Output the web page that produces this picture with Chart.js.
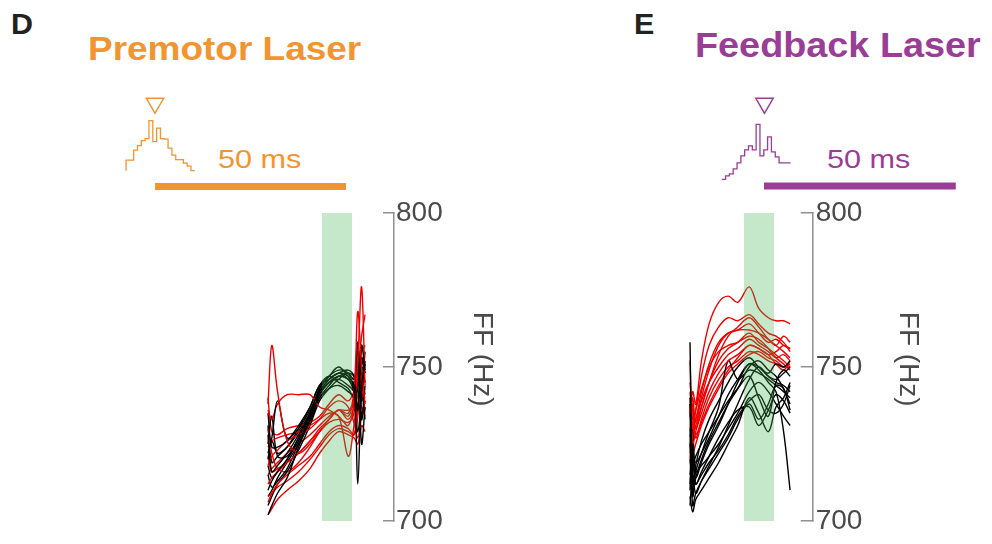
<!DOCTYPE html>
<html>
<head>
<meta charset="utf-8">
<script src="https://cdn.jsdelivr.net/npm/chart.js@4.4.1/dist/chart.umd.min.js"></script>
<style>
  body { margin: 0; width: 992px; height: 544px; background: #fff; position: relative; overflow: hidden; font-family: "Liberation Sans", Arial, sans-serif; }
  canvas { position: absolute; }
  .t { position: absolute; white-space: nowrap; line-height: 1; transform-origin: 0 0; }
</style>
</head>
<body>
<div class="t" style="left:11px;top:10px;font-size:29px;font-weight:bold;color:#222;transform:scaleX(1.05)">D</div>
<div class="t" style="left:88px;top:32px;font-size:33px;font-weight:bold;color:#F29530;transform:scaleX(1.12)">Premotor Laser</div>
<div class="t" style="left:634px;top:10px;font-size:29px;font-weight:bold;color:#222;transform:scaleX(1.05)">E</div>
<div class="t" style="left:695px;top:27px;font-size:35px;font-weight:bold;color:#9A3D96;transform:scaleX(1.08)">Feedback Laser</div>
<div class="t" style="left:218px;top:147px;font-size:25.5px;color:#F29530;transform:scaleX(1.2)">50 ms</div>
<div class="t" style="left:827px;top:147px;font-size:25.5px;color:#9A3D96;transform:scaleX(1.2)">50 ms</div>

<canvas id="histD" width="496" height="120" style="left:0;top:80px"></canvas>
<canvas id="histE" width="496" height="120" style="left:496px;top:80px"></canvas>
<canvas id="mainD" width="496" height="354" style="left:0;top:190px"></canvas>
<canvas id="mainE" width="426" height="354" style="left:496px;top:190px"></canvas>

<script>
// colours
const orange = '#F29530';
const purple = '#9A3D96';
const red = '#ee0000';

// song-timing histograms (1 ms bins)
const histD_start = 33.0;
const histD_counts = [2.1, 2.1, 4.1, 5, 6, 6.4, 10, 5.8, 8.5, 6.4, 6.3, 4.5, 3.1, 2.2, 2.2, 1.5, 0.9, 0];
const histE_start = 59.1;
const histE_counts = [0, 0.7, 1.1, 2.1, 3.3, 4.7, 5.9, 6.7, 5.9, 11, 4.7, 5.9, 8.5, 5.5, 4.5, 3.3, 3.3, 3.3];

// 50 ms scale bars and target markers (ms)
const barD = [40.58, 90.58];
const barE = [70.16, 120.36];
const markD = 40.58;
const markE = 70.29;

// laser window (ms after trace start)
const band = [14.1, 22.0];

// FF traces, Hz
const tD = [0, 1, 2.5, 5, 8, 11, 13.5, 16, 18.5, 21, 22.5, 23.5, 24.5, 25.4];
const redD = [
  [738, 757, 742, 726, 722, 725, 729, 733, 736, 735, 742, 768, 750, 738],
  [736, 733, 738, 741, 741, 741, 737, 736, 734, 731, 738, 752, 776, 744],
  [706, 709, 712, 715, 718, 721, 725, 729, 731, 730, 728, 736, 742, 740],
  [712, 714, 716, 719, 722, 726, 729, 732, 733, 732, 735, 748, 760, 767],
  [718, 721, 723, 726, 728, 730, 733, 737, 739, 737, 732, 727, 734, 739],
  [724, 726, 727, 728, 729, 731, 733, 735, 734, 721, 731, 741, 737, 734],
  [708, 709, 711, 713, 716, 720, 724, 728, 730, 729, 728, 734, 746, 752],
  [730, 722, 717, 716, 719, 724, 729, 733, 736, 734, 740, 750, 744, 736],
  [702, 704, 707, 710, 713, 717, 722, 726, 729, 728, 727, 725, 731, 729],
  [740, 729, 728, 730, 731, 732, 734, 738, 741, 739, 742, 745, 741, 743],
  [715, 717, 719, 722, 725, 728, 731, 734, 736, 736, 738, 746, 755, 757],
  [721, 716, 717, 719, 722, 726, 730, 733, 736, 733, 737, 744, 748, 745]
];
const blackD = [
  [702, 705, 709, 714, 724, 733, 741, 745, 747, 746, 744, 712, 744, 751],
  [722, 727, 739, 727, 730, 736, 742, 746, 748, 749, 747, 736, 757, 749],
  [710, 713, 716, 720, 726, 734, 742, 746, 748, 746, 743, 758, 733, 744],
  [728, 716, 718, 722, 728, 735, 743, 747, 749, 748, 744, 750, 725, 737],
  [735, 724, 724, 726, 731, 737, 744, 747, 745, 743, 740, 745, 752, 748],
  [715, 711, 713, 717, 725, 733, 740, 743, 744, 742, 740, 729, 741, 755],
  [705, 708, 712, 716, 723, 731, 739, 743, 746, 748, 747, 742, 735, 739],
  [725, 734, 721, 721, 727, 735, 743, 747, 750, 747, 745, 755, 747, 741],
  [718, 714, 716, 720, 727, 734, 741, 745, 746, 744, 742, 737, 750, 745],
  [731, 719, 721, 724, 730, 737, 744, 746, 748, 747, 744, 748, 743, 733],
  [708, 710, 714, 719, 725, 732, 740, 744, 747, 746, 743, 735, 753, 748],
  [720, 726, 722, 724, 729, 735, 742, 745, 747, 748, 746, 751, 739, 752]
];

const tE = [0, 0.7, 1.5, 3, 5, 7.5, 10, 12.5, 15.5, 18, 20.5, 22.5, 24.5, 26.2];
const redE = [
  [735, 742, 738, 752, 764, 771, 773, 771, 776, 769, 766, 765, 765, 764],
  [752, 730, 736, 747, 757, 763, 766, 765, 767, 764, 761, 760, 758, 755],
  [725, 732, 733, 742, 751, 758, 761, 762, 764, 761, 758, 759, 757, 756],
  [745, 736, 730, 737, 745, 752, 756, 758, 761, 758, 756, 754, 752, 750],
  [722, 728, 733, 739, 745, 750, 754, 756, 759, 757, 755, 753, 754, 752],
  [738, 725, 729, 735, 742, 748, 752, 754, 757, 756, 754, 755, 757, 756],
  [730, 738, 727, 733, 740, 746, 750, 752, 755, 754, 752, 751, 750, 751],
  [720, 727, 731, 737, 745, 754, 760, 763, 766, 763, 759, 757, 755, 753],
  [742, 733, 736, 743, 750, 755, 757, 758, 760, 759, 756, 753, 751, 749],
  [728, 722, 725, 731, 737, 743, 748, 751, 754, 755, 753, 752, 750, 750],
  [735, 740, 732, 740, 749, 757, 761, 762, 762, 761, 759, 757, 760, 758],
  [724, 730, 728, 732, 738, 744, 749, 753, 757, 756, 754, 751, 749, 752]
];
const blackE = [
  [758, 712, 718, 726, 733, 739, 745, 750, 753, 750, 748, 751, 750, 752],
  [705, 715, 709, 713, 718, 724, 731, 738, 746, 750, 747, 745, 744, 742],
  [730, 708, 714, 720, 726, 732, 738, 743, 750, 752, 749, 747, 743, 738],
  [715, 725, 712, 716, 721, 727, 732, 736, 737, 731, 736, 741, 739, 735],
  [708, 703, 707, 710, 714, 719, 725, 731, 740, 735, 729, 737, 740, 745],
  [738, 720, 714, 719, 725, 731, 738, 745, 751, 750, 747, 746, 748, 750],
  [720, 710, 716, 722, 729, 737, 752, 746, 749, 748, 746, 744, 742, 740],
  [710, 730, 716, 718, 721, 725, 730, 735, 742, 745, 742, 738, 734, 731],
  [740, 718, 721, 725, 729, 734, 739, 743, 747, 740, 734, 745, 749, 747],
  [725, 705, 709, 713, 717, 722, 727, 733, 738, 733, 738, 744, 743, 736],
  [712, 722, 719, 722, 727, 734, 741, 746, 751, 749, 745, 742, 729, 710],
  [735, 715, 712, 715, 719, 723, 728, 734, 739, 741, 736, 735, 738, 744]
];

const pxPerMs = 3.82;

function histChart(id, start, counts, bar, mark, color, yMin, yMax, barY, markY) {
  let pts = [{ x: start, y: 0 }];
  for (let i = 0; i < counts.length; i++) pts.push({ x: start + i, y: counts[i] });
  pts.push({ x: start + counts.length, y: counts[counts.length - 1] });

  new Chart(document.getElementById(id), {
    type: 'line',
    data: {
      datasets: [
        { data: pts, stepped: true, borderColor: color, borderWidth: 1.3, pointRadius: 0 },
        { data: [{ x: bar[0], y: barY }, { x: bar[1], y: barY }], borderColor: color, borderWidth: 7, borderCapStyle: 'butt', pointRadius: 0 },
        { data: [{ x: mark, y: markY }], showLine: false, pointStyle: 'triangle', pointRotation: 180, pointRadius: 10,
          pointBorderColor: color, pointBackgroundColor: 'rgba(255,255,255,0)', pointBorderWidth: 1.5 }
      ]
    },
    options: {
      responsive: false, animation: false, events: [],
      layout: { padding: 0, autoPadding: false },
      plugins: { legend: { display: false }, tooltip: { enabled: false } },
      scales: {
        x: { type: 'linear', display: false, min: 0, max: 496 / pxPerMs },
        y: { display: false, min: yMin, max: yMax }
      }
    }
  });
}

histChart('histD', histD_start, histD_counts, barD, markD, orange, -5.86, 18.14, -3.16, 13.48);
histChart('histE', histE_start, histE_counts, barE, markE, purple, -4.14, 19.86, -1.34, 15.2);

function trace(times, vals, color) {
  return {
    data: times.map((t, i) => ({ x: t, y: vals[i] })),
    borderColor: color, borderWidth: 1.4, pointRadius: 0, tension: 0.35, order: 1
  };
}

function mainChart(id, times, reds, blacks, xMin, xMax, axisWidth, tickLen, pad) {
  const sets = [{
    data: [{ x: band[0], y: 800 }, { x: band[1], y: 800 }],
    borderWidth: 0, pointRadius: 0, fill: { value: 700 },
    backgroundColor: 'rgba(62,178,82,0.3)', order: 0
  }];
  for (let i = 0; i < Math.max(reds.length, blacks.length); i++) {
    if (blacks[i]) sets.push(trace(times, blacks[i], '#000'));
    if (reds[i]) sets.push(trace(times, reds[i], red));
  }

  new Chart(document.getElementById(id), {
    type: 'line',
    data: { datasets: sets },
    options: {
      responsive: false, animation: false, events: [],
      layout: { padding: { top: 23, bottom: 23, left: 0, right: 0 }, autoPadding: false },
      plugins: { legend: { display: false }, tooltip: { enabled: false } },
      scales: {
        x: { type: 'linear', display: false, min: xMin, max: xMax },
        y: {
          position: 'right', min: 700, max: 800,
          afterFit: s => { s.width = axisWidth; s.paddingTop = 0; s.paddingBottom = 0; },
          border: { color: '#8f8f8f', width: 1.5 },
          grid: { drawOnChartArea: false, tickLength: tickLen, color: '#8f8f8f', lineWidth: 1.5 },
          ticks: { stepSize: 50, padding: pad, color: '#4a4a4a', font: { family: 'Liberation Sans', size: 28 } },
          title: { display: true, text: 'FF (Hz)  ', color: '#4a4a4a', padding: 0,
                   font: { family: 'Liberation Sans', size: 28, lineHeight: 1 } }
        }
      }
    }
  });
}

mainChart('mainD', tD, redD, blackD, -268 / pxPerMs, (394 - 268) / pxPerMs, 102, -11, 13);
mainChart('mainE', tE, redE, blackE, -194 / pxPerMs, (316.7 - 194) / pxPerMs, 109.3, -12, 15);
</script>
</body>
</html>
